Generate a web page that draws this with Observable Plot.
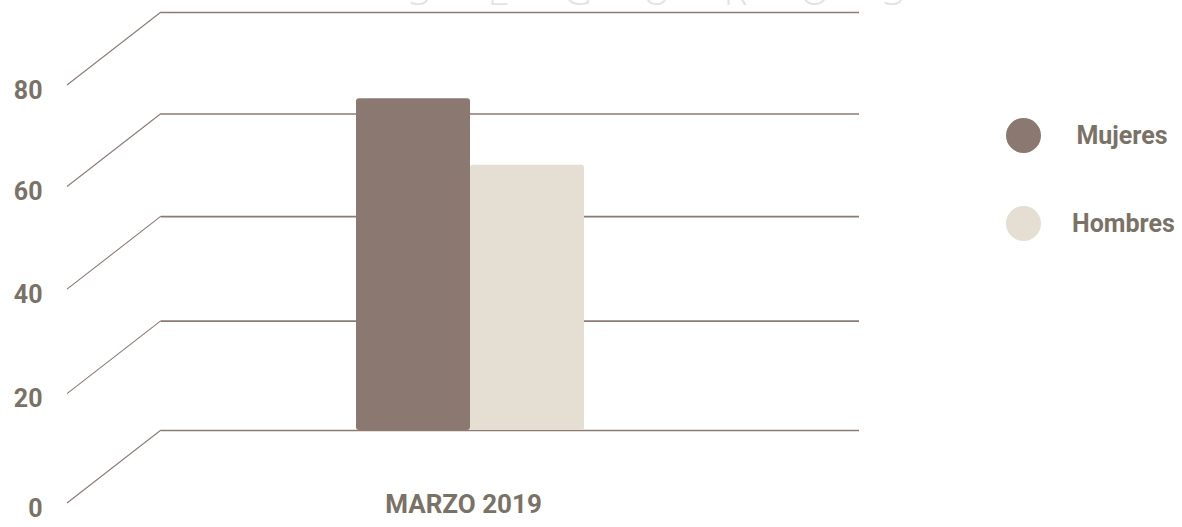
<!DOCTYPE html>
<html>
<head>
<meta charset="utf-8">
<script src="https://cdn.jsdelivr.net/npm/d3@7"></script>
<script src="https://cdn.jsdelivr.net/npm/@observablehq/plot@0.6"></script>
<style>
  html, body { margin: 0; padding: 0; background: #ffffff; }
  #wrap { position: relative; width: 1182px; height: 527px; overflow: hidden; background: #fff; }
  #chart { position: absolute; left: 0; top: 0; }
  #watermark { position: absolute; left: 380px; top: -30.5px; display: flex; font-family: "Open Sans", sans-serif; font-weight: 300; font-size: 40px; line-height: 40px; color: #e3e3e3; }
  #watermark span { display: block; width: 79px; text-align: center; }
  #legend { position: absolute; left: 1006px; top: 118px; font-family: Roboto, sans-serif; font-weight: 700; font-size: 25px; color: #7a7266; }
  .item { position: absolute; left: 0; width: 176px; height: 35px; }
  .item .sw { position: absolute; left: 0; top: 0; width: 35px; height: 35px; border-radius: 50%; }
  .item .lb { position: absolute; left: 66px; width: 100px; top: 0; height: 35px; line-height: 35px; text-align: center; white-space: nowrap; }
</style>
</head>
<body>
<div id="wrap">
  <div id="chart"></div>
  <div id="watermark"></div>
  <div id="legend"></div>
</div>
<script>
// ---- data ----
const categories = ["MARZO 2019"];
const series = ["Mujeres", "Hombres"];
const values = [63, 50];
const yTicks = [0, 20, 40, 60, 80];
const colors = ["#8b7870", "#e4ded3"];
const watermarkText = "SEGUROS";

const data = series.map((s, i) => ({category: categories[0], series: s, value: values[i]}));

const lineColor = "#8c7b75";
const textColor = "#7a7266";
const depthDx = -94, depthDy = 73;

const diagonals = (index, scales, vals, dimensions) => {
  const g = d3.create("svg:g").attr("stroke", lineColor).attr("stroke-width", 1.1);
  for (const t of yTicks) {
    const y = scales.y(t);
    g.append("line")
      .attr("x1", dimensions.marginLeft).attr("y1", y)
      .attr("x2", dimensions.marginLeft + depthDx).attr("y2", y + depthDy);
  }
  return g.node();
};

const chart = Plot.plot({
  width: 1182,
  height: 527,
  marginLeft: 161,
  marginRight: 323,
  marginTop: 12,
  marginBottom: 97,
  style: {background: "white", fontFamily: "Roboto, sans-serif"},
  x: {type: "band", domain: series, range: [356, 584], padding: 0, axis: null},
  y: {type: "pow", exponent: 0.967, domain: [0, 80], range: [430, 12], axis: null},
  color: {domain: series, range: colors},
  marks: [
    Plot.ruleY(yTicks, {stroke: lineColor, strokeWidth: 1.6}),
    diagonals,
    Plot.barY(data, {x: "series", y: "value", fill: "series", rx: 3}),
    Plot.text(yTicks, {y: d => d, text: d => String(d), frameAnchor: "left", textAnchor: "end", dx: -119, dy: 78,
      fontSize: 25, fontWeight: 700, fill: textColor}),
    Plot.text(categories, {text: d => d, frameAnchor: "bottom", dx: -47, dy: 82,
      fontSize: 26, fontWeight: 700, fill: textColor})
  ]
});
document.getElementById("chart").appendChild(chart);

const wm = document.getElementById("watermark");
for (const ch of watermarkText) {
  const s = document.createElement("span");
  s.textContent = ch;
  wm.appendChild(s);
}

const legend = document.getElementById("legend");
series.forEach((s, i) => {
  const item = document.createElement("div");
  item.className = "item";
  item.style.top = (i * 88) + "px";
  const sw = document.createElement("div");
  sw.className = "sw";
  sw.style.background = colors[i];
  const lb = document.createElement("div");
  lb.className = "lb";
  lb.textContent = s;
  item.appendChild(sw);
  item.appendChild(lb);
  legend.appendChild(item);
});
</script>
</body>
</html>
